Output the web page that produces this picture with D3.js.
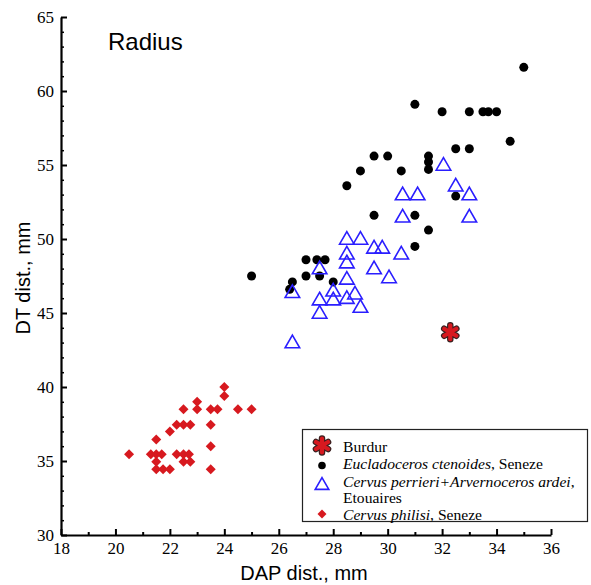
<!DOCTYPE html>
<html>
<head>
<meta charset="utf-8">
<script src="https://cdn.jsdelivr.net/npm/d3@7"></script>
<style>
  html, body { margin: 0; padding: 0; background: #fff; }
  svg { display: block; }
</style>
</head>
<body>
<svg id="chart" width="591" height="585"></svg>
<script>
// ---- data (DAP, DT) in mm ----
const burdur = [[32.3, 43.7]];

const eucladoceros = [
  [35.0, 61.6], [31.0, 59.1], [32.0, 58.6], [33.0, 58.6], [33.5, 58.6], [33.7, 58.6], [34.0, 58.6],
  [34.5, 56.6], [32.5, 56.1], [33.0, 56.1], [29.5, 55.6], [30.0, 55.6], [31.5, 55.6], [31.5, 55.2],
  [31.5, 54.7], [30.5, 54.6], [29.0, 54.6], [28.5, 53.6], [32.5, 52.9], [29.5, 51.6], [31.0, 51.6],
  [31.5, 50.6], [31.0, 49.5], [25.0, 47.5], [26.5, 47.1], [26.4, 46.6], [27.0, 48.6], [27.4, 48.6],
  [27.7, 48.6], [27.0, 47.5], [27.5, 47.5], [28.0, 47.1]
];

const cervusPerrieri = [
  [32.05, 55.0], [30.55, 53.0], [31.1, 53.0], [32.5, 53.6], [33.0, 53.0], [30.55, 51.5], [33.0, 51.5],
  [28.5, 50.0], [29.0, 50.0], [28.5, 49.0], [28.5, 48.4], [29.5, 49.4], [29.8, 49.4], [30.5, 49.0],
  [28.5, 47.3], [29.5, 48.0], [30.05, 47.4], [27.5, 48.0], [26.5, 46.4], [28.0, 46.5], [27.5, 45.9],
  [28.0, 45.9], [28.5, 46.0], [28.8, 46.3], [29.0, 45.4], [27.5, 45.0], [26.5, 43.0]
];

const cervusPhilisi = [
  [24.0, 40.0], [24.0, 39.4], [23.0, 39.0], [22.5, 38.5], [23.0, 38.5], [23.5, 38.5], [23.75, 38.5],
  [24.5, 38.5], [25.0, 38.5], [22.25, 37.45], [22.5, 37.45], [22.75, 37.45], [23.5, 37.45], [22.0, 37.0],
  [21.5, 36.45], [23.5, 36.0], [20.5, 35.45], [21.3, 35.45], [21.5, 35.45], [21.7, 35.45], [22.25, 35.45],
  [22.5, 35.45], [22.7, 35.45], [21.5, 34.95], [22.5, 34.95], [22.75, 34.95], [21.5, 34.45], [21.75, 34.45],
  [22.0, 34.45], [23.5, 34.45]
];

const xMajorTicks = [18, 20, 22, 24, 26, 28, 30, 32, 34, 36];
const xMinorTicks = [19, 21, 23, 25, 27, 29, 31, 33, 35];
const yMajorTicks = [30, 35, 40, 45, 50, 55, 60, 65];
const yMinorTicks = d3.range(30, 66).filter(v => v % 5 !== 0);

const title = "Radius";
const xLabel = "DAP dist., mm";
const yLabel = "DT dist., mm";

// ---- drawing ----
const svg = d3.select("#chart");
const x = d3.scaleLinear().domain([18, 36]).range([61, 551]);
const y = d3.scaleLinear().domain([30, 65]).range([535, 17]);

const serif = "'Liberation Serif', 'Times New Roman', serif";
const sans = "'Liberation Sans', Arial, sans-serif";

// minor ticks
svg.append("g").attr("transform", `translate(0,${y(30)})`)
  .call(d3.axisBottom(x).tickValues(xMinorTicks).tickSize(-3).tickSizeOuter(0).tickFormat(""))
  .call(g => g.select(".domain").remove())
  .call(g => g.selectAll("line").attr("stroke", "#000").attr("stroke-width", 2));
svg.append("g").attr("transform", `translate(${x(18)},0)`)
  .call(d3.axisLeft(y).tickValues(yMinorTicks).tickSize(-3).tickSizeOuter(0).tickFormat(""))
  .call(g => g.select(".domain").remove())
  .call(g => g.selectAll("line").attr("stroke", "#000").attr("stroke-width", 1.5));

// major axes
const xAxis = svg.append("g").attr("transform", `translate(0,${y(30)})`)
  .call(d3.axisBottom(x).tickValues(xMajorTicks).tickSize(-6).tickSizeOuter(0).tickPadding(7).tickFormat(d3.format("d")));
const yAxis = svg.append("g").attr("transform", `translate(${x(18)},0)`)
  .call(d3.axisLeft(y).tickValues(yMajorTicks).tickSize(-6).tickSizeOuter(0).tickPadding(7).tickFormat(d3.format("d")));
[xAxis, yAxis].forEach(g => {
  g.select(".domain").attr("stroke", "#000").attr("stroke-width", 2.2);
  g.selectAll(".tick line").attr("stroke", "#000").attr("stroke-width", 2);
  g.selectAll(".tick text").attr("font-family", serif).attr("font-size", 17).attr("fill", "#000");
});

// axis labels & title
svg.append("text").attr("x", 304).attr("y", 580).attr("text-anchor", "middle")
  .attr("font-family", sans).attr("font-size", 20).text(xLabel);
svg.append("text").attr("transform", `translate(30,${(y(30) + y(65)) / 2 + 2}) rotate(-90)`)
  .attr("text-anchor", "middle").attr("font-family", sans).attr("font-size", 20).text(yLabel);
svg.append("text").attr("x", 108).attr("y", 50).attr("font-family", sans).attr("font-size", 24).text(title);

// markers
const red = "#d7191f";
const blue = "#2a1eff";
const triangle = d3.symbol().type(d3.symbolTriangle).size(92);
const diamond = d3.symbol().type(d3.symbolSquare).size(50);

function drawStar(g, cx, cy, r) {
  const angles = [90, 30, -30];
  const seg = a => {
    const rad = a * Math.PI / 180;
    const dx = Math.cos(rad) * r, dy = Math.sin(rad) * r;
    return `M${cx - dx},${cy - dy}L${cx + dx},${cy + dy}`;
  };
  const d = angles.map(seg).join("");
  g.append("path").attr("d", d).attr("stroke", "#3a2020").attr("stroke-width", 6.5).attr("stroke-linecap", "round").attr("fill", "none");
  g.append("path").attr("d", d).attr("stroke", red).attr("stroke-width", 4.2).attr("stroke-linecap", "round").attr("fill", "none");
}

svg.append("g").selectAll("path").data(cervusPhilisi).join("path")
  .attr("d", diamond).attr("transform", d => `translate(${x(d[0])},${y(d[1])}) rotate(45)`)
  .attr("fill", red);

svg.append("g").selectAll("circle").data(eucladoceros).join("circle")
  .attr("cx", d => x(d[0])).attr("cy", d => y(d[1])).attr("r", 4.5).attr("fill", "#000");

svg.append("g").selectAll("path").data(cervusPerrieri).join("path")
  .attr("d", triangle).attr("transform", d => `translate(${x(d[0])},${y(d[1]) + 1})`)
  .attr("fill", "none").attr("stroke", blue).attr("stroke-width", 1.6);

const starG = svg.append("g");
burdur.forEach(d => drawStar(starG, x(d[0]), y(d[1]), 7));

// legend
const lg = svg.append("g");
lg.append("rect").attr("x", 302.5).attr("y", 429.5).attr("width", 285).attr("height", 92)
  .attr("fill", "#fff").attr("stroke", "#222").attr("stroke-width", 1.2);
const symX = 322, txtX = 343;
drawStar(lg, symX, 445.5, 7);
lg.append("circle").attr("cx", symX).attr("cy", 465.5).attr("r", 3.8).attr("fill", "#000");
lg.append("path").attr("d", d3.symbol().type(d3.symbolTriangle).size(80)).attr("transform", `translate(${symX},485.5)`)
  .attr("fill", "none").attr("stroke", blue).attr("stroke-width", 1.6);
lg.append("path").attr("d", d3.symbol().type(d3.symbolSquare).size(40)).attr("transform", `translate(${symX},514) rotate(45)`)
  .attr("fill", red);

const legendText = [
  { y: 451.5, parts: [["Burdur", false]] },
  { y: 469, parts: [["Eucladoceros ctenoides", true], [", Seneze", false]] },
  { y: 486.5, parts: [["Cervus perrieri+Arvernoceros ardei", true], [",", false]] },
  { y: 503, parts: [["Etouaires", false]] },
  { y: 519.5, parts: [["Cervus philisi", true], [", Seneze", false]] }
];
legendText.forEach(l => {
  const t = lg.append("text").attr("x", txtX).attr("y", l.y).attr("font-family", serif).attr("font-size", 15.6).attr("fill", "#000");
  l.parts.forEach(p => t.append("tspan").attr("font-style", p[1] ? "italic" : "normal").text(p[0]));
});
</script>
</body>
</html>
